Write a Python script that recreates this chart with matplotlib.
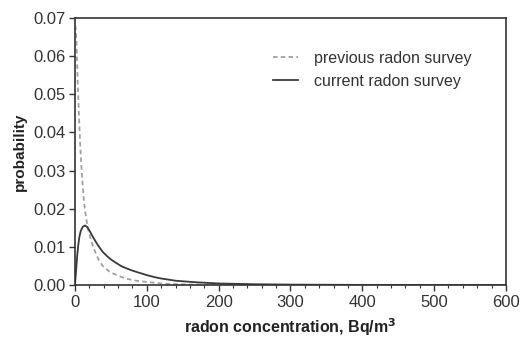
import matplotlib
matplotlib.use("Agg")
import matplotlib.pyplot as plt
from matplotlib.ticker import MultipleLocator

plt.rcParams['font.family'] = ['Liberation Sans', 'DejaVu Sans']

# previous radon survey (dashed)
prev_x = [0.5, 1, 2, 3, 4, 5, 6, 7, 8, 10, 12, 14, 16, 18, 21, 24, 28, 33, 39, 48, 58, 70, 86,
          100, 120, 141, 170, 220, 300, 600]
prev_y = [0.068, 0.067, 0.064, 0.058, 0.052, 0.047, 0.042, 0.038, 0.034, 0.028, 0.023, 0.0195,
          0.017, 0.0148, 0.0127, 0.0108, 0.0087, 0.0066, 0.0049, 0.0035, 0.0026, 0.0017, 0.0011,
          0.0008, 0.0004, 0.0002, 0.0001, 0.00003, 0.0, 0.0]

# current radon survey (solid)
cur_x = [0, 1, 2, 3, 4.6, 6, 8, 11, 14, 17, 20, 25, 30, 35, 39, 45, 50, 58, 65, 70, 78, 86, 100,
         110, 120, 141, 170, 200, 250, 300, 400, 600]
cur_y = [0.0, 0.0025, 0.005, 0.0075, 0.0105, 0.0125, 0.0142, 0.0153, 0.0156, 0.0152, 0.0143,
         0.0126, 0.011, 0.0096, 0.0086, 0.0075, 0.0067, 0.0057, 0.0049, 0.0045, 0.0039, 0.0034,
         0.0026, 0.0021, 0.0017, 0.0011, 0.0007, 0.0004, 0.0002, 0.0001, 0.00003, 0.0]

fig = plt.figure(figsize=(5.27, 3.38), dpi=100)
ax = fig.add_axes([0.1423, 0.1568, 0.8177, 0.79])

ax.plot(prev_x, prev_y, linestyle=(0, (2.5, 1.8)), color='#a0a0a0', lw=1.3, label='previous radon survey')
ax.plot(cur_x, cur_y, linestyle='-', color='#3a3a3a', lw=1.3, label='current radon survey')

ax.set_xlim(0, 600)
ax.set_ylim(0, 0.07)
ax.xaxis.set_major_locator(MultipleLocator(100))
ax.xaxis.set_minor_locator(MultipleLocator(20))
ax.yaxis.set_major_locator(MultipleLocator(0.01))
ax.yaxis.set_major_formatter(matplotlib.ticker.FormatStrFormatter('%.2f'))

for s in ax.spines.values():
    s.set_linewidth(1.2)
    s.set_color('#333333')

ax.tick_params(axis='both', which='major', direction='out', length=4, width=1, colors='#333333',
               labelsize=12, labelcolor='#333333', top=False, right=False, pad=3)
ax.tick_params(axis='x', which='minor', direction='out', length=2.5, width=0.8, colors='#333333')

ax.set_xlabel('radon concentration, Bq/m$^\\mathbf{3}$', fontsize=11.5, fontweight='bold',
              color='#222222', labelpad=5)
ax.set_ylabel('probability', fontsize=11, fontweight='bold', color='#222222', labelpad=4)

leg = ax.legend(loc='upper left', bbox_to_anchor=(0.425, 0.93), frameon=False, fontsize=11.5,
                handlelength=1.6, handletextpad=1.0, labelspacing=0.5)
for t in leg.get_texts():
    t.set_color('#333333')

fig.savefig('out.png', dpi=100)
